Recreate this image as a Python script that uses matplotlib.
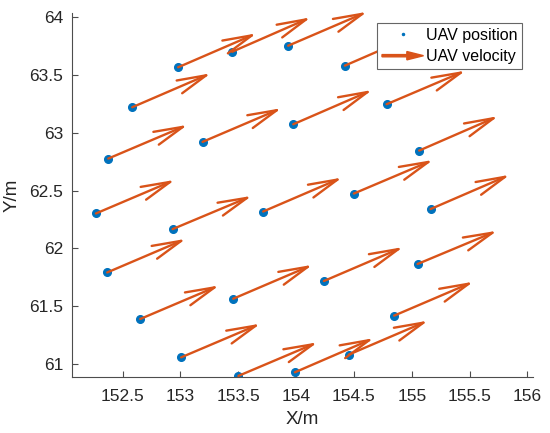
import numpy as np
import matplotlib
matplotlib.use('Agg')
import matplotlib.pyplot as plt
import matplotlib.patches as mpatches
from matplotlib.lines import Line2D
from matplotlib.legend_handler import HandlerPatch
from matplotlib.ticker import FormatStrFormatter

# UAV positions (m)
pos_x = [152.98, 153.447, 153.931, 154.421, 152.583, 154.782, 152.376, 153.191, 153.975,
         155.064, 152.269, 152.932, 153.715, 154.499, 155.162, 152.367, 152.652, 153.456,
         154.240, 155.050, 153.006, 153.501, 153.989, 154.456, 154.847]
pos_y = [63.564, 63.698, 63.750, 63.578, 63.219, 63.245, 62.776, 62.920, 63.072,
         62.845, 62.302, 62.167, 62.319, 62.474, 62.340, 61.793, 61.391, 61.566,
         61.719, 61.866, 61.060, 60.900, 60.931, 61.084, 61.420]
# UAV velocity components
vel_u = [0.678, 0.680, 0.683, 0.680, 0.680, 0.683, 0.686, 0.683, 0.683,
         0.683, 0.683, 0.685, 0.683, 0.685, 0.685, 0.680, 0.683, 0.686,
         0.685, 0.688, 0.686, 0.685, 0.683, 0.685, 0.686]
vel_v = [0.293, 0.297, 0.293, 0.295, 0.293, 0.290, 0.291, 0.291, 0.296,
         0.297, 0.290, 0.287, 0.293, 0.290, 0.296, 0.290, 0.290, 0.293,
         0.293, 0.287, 0.291, 0.290, 0.295, 0.293, 0.293]

xticks = [152.5, 153, 153.5, 154, 154.5, 155, 155.5, 156]
yticks = [61, 61.5, 62, 62.5, 63, 63.5, 64]

blue = '#0072BD'
orange = '#D95319'
axcol = '#4d4d4d'

plt.rcParams['font.family'] = ['Liberation Sans', 'DejaVu Sans']

fig = plt.figure(figsize=(5.5, 4.33), dpi=100)
ax = fig.add_axes([0.1304, 0.130, 0.8392, 0.8393])

ax.plot(pos_x, pos_y, '.', color=blue, markersize=11, zorder=2)
for x, y, u, v in zip(pos_x, pos_y, vel_u, vel_v):
    ax.annotate('', xy=(x + u, y + v), xytext=(x, y), annotation_clip=False,
                arrowprops=dict(arrowstyle='->,head_length=2.1,head_width=0.5',
                                color=orange, lw=1.7, shrinkA=0, shrinkB=0),
                zorder=3)

ax.set_xlim(152.06, 156.05)
ax.set_ylim(60.893, 64.03)
ax.set_xticks(xticks)
ax.set_yticks(yticks)
ax.xaxis.set_major_formatter(FormatStrFormatter('%g'))
ax.yaxis.set_major_formatter(FormatStrFormatter('%g'))
ax.tick_params(direction='in', length=4, width=0.8, colors=axcol,
               labelcolor='#262626', labelsize=12.5)
ax.tick_params(axis='x', pad=9)
ax.tick_params(axis='y', pad=6)
for s in ['top', 'right']:
    ax.spines[s].set_visible(False)
for s in ['left', 'bottom']:
    ax.spines[s].set_color(axcol)
    ax.spines[s].set_linewidth(0.8)

ax.set_xlabel('X/m', fontsize=13.5, color='#262626', labelpad=5)
ax.set_ylabel('Y/m', fontsize=13.5, color='#262626', labelpad=6)


def make_arrow(legend, orig_handle, xdescent, ydescent, width, height, fontsize):
    return mpatches.FancyArrow(0, 0.5 * height, width, 0, width=1.6,
                               length_includes_head=True,
                               head_width=6, head_length=12)


pos_handle = Line2D([], [], marker='.', ls='none', color=blue, markersize=3)
vel_handle = mpatches.FancyArrow(0, 0, 1, 0, color=orange)
leg = ax.legend([pos_handle, vel_handle], ['UAV position', 'UAV velocity'],
                handler_map={mpatches.FancyArrow: HandlerPatch(patch_func=make_arrow)},
                loc='upper right', bbox_to_anchor=(0.976, 0.973),
                fontsize=11.5, fancybox=False, framealpha=1, edgecolor='#666666',
                handlelength=2.6, handletextpad=0.15, borderpad=0.3,
                labelspacing=0.4, borderaxespad=0)
leg.get_frame().set_linewidth(0.8)

fig.savefig('out.png', dpi=100)
